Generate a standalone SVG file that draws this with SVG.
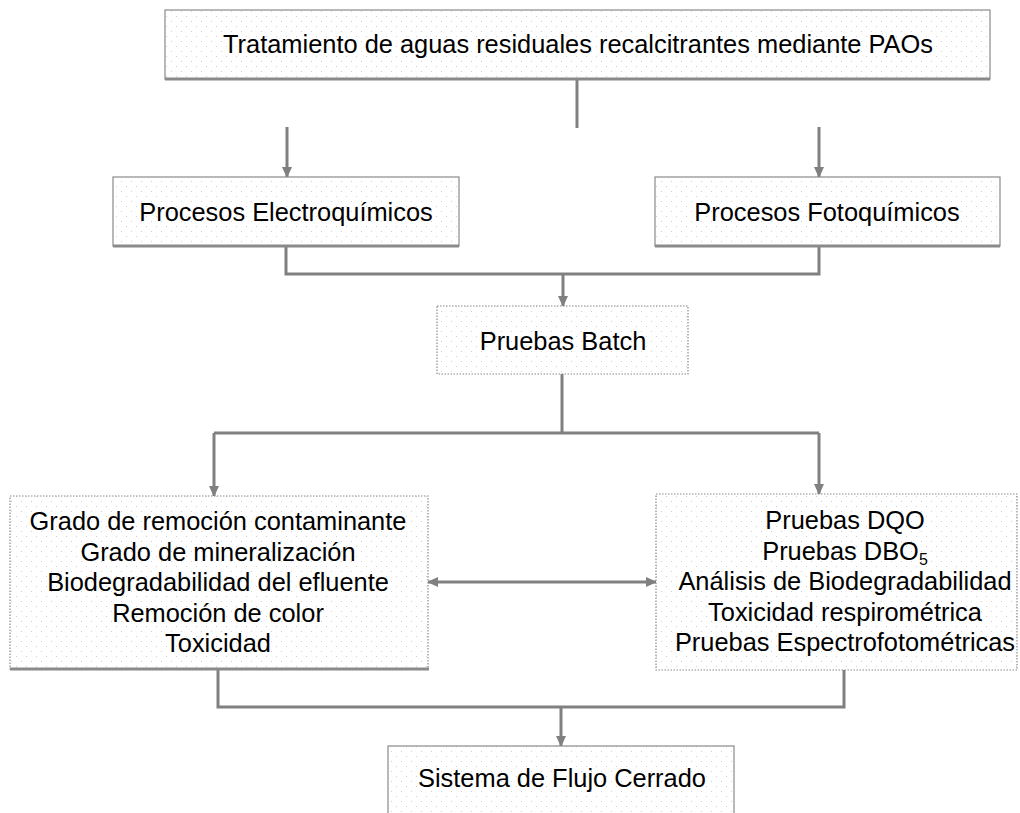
<svg xmlns="http://www.w3.org/2000/svg" width="1020" height="813" viewBox="0 0 1020 813">
<style>
.box{fill:url(#dots);stroke:#8a8a8a;stroke-width:1.2}
.dot{stroke-dasharray:1.5 1.5}
.shadow{stroke:#8a8a8a;stroke-width:3;fill:none}
.t{font-family:"Liberation Sans",Arial,sans-serif;font-size:25.4px;fill:#000;text-anchor:middle}
.c{stroke:#808080;stroke-width:3;fill:none}
.a{marker-end:url(#ah)}
</style>
<defs>
<pattern id="dots" width="10" height="10" patternUnits="userSpaceOnUse">
<rect width="10" height="10" fill="#fff"/>
<rect x="1" y="1" width="1" height="1" fill="#d0d0d0"/>
<rect x="6" y="6" width="1" height="1" fill="#d0d0d0"/>
</pattern>
<marker id="ah" markerWidth="12" markerHeight="12" refX="10" refY="6" orient="auto" markerUnits="userSpaceOnUse">
<path d="M0,1 L11,6 L0,11 Z" fill="#808080"/>
</marker>
<marker id="as" markerWidth="12" markerHeight="12" refX="1" refY="6" orient="auto" markerUnits="userSpaceOnUse">
<path d="M11,1 L0,6 L11,11 Z" fill="#808080"/>
</marker>
</defs>
<rect width="1020" height="813" fill="#fff"/>
<g id="connectors">
<line class="c" x1="577" y1="79" x2="577" y2="128"/>
<line class="c a" x1="287" y1="127" x2="287" y2="177"/>
<line class="c a" x1="819" y1="127" x2="819" y2="177"/>
<polyline class="c" points="286,246 286,274 819,274 819,246"/>
<line class="c a" x1="563" y1="274" x2="563" y2="306"/>
<line class="c" x1="562" y1="374" x2="562" y2="433"/>
<line class="c" x1="214" y1="433" x2="819" y2="433"/>
<line class="c a" x1="214" y1="433" x2="214" y2="496"/>
<line class="c a" x1="819" y1="433" x2="819" y2="494"/>
<line class="c" x1="428" y1="582" x2="656" y2="582" marker-start="url(#as)" marker-end="url(#ah)"/>
<polyline class="c" points="218,670 218,707 844,707 844,670"/>
<line class="c a" x1="561" y1="707" x2="561" y2="746"/>
</g>
<g id="n1">
<rect class="box" x="165" y="10" width="825" height="69"/>
<line class="shadow" x1="165" y1="79" x2="990" y2="79"/>
<text class="t" x="578" y="53" font-size="26.5">Tratamiento de aguas residuales recalcitrantes mediante PAOs</text>
</g>
<g id="n2">
<rect class="box" x="113" y="177" width="346" height="69"/>
<line class="shadow" x1="113" y1="246" x2="459" y2="246"/>
<text class="t" x="286" y="221">Procesos Electroquímicos</text>
</g>
<g id="n3">
<rect class="box" x="655" y="177" width="345" height="69"/>
<line class="shadow" x1="655" y1="246" x2="1000" y2="246"/>
<text class="t" x="827" y="221">Procesos Fotoquímicos</text>
</g>
<g id="n4">
<rect class="box dot" x="437" y="306" width="251" height="68"/>
<text class="t" x="563" y="350">Pruebas Batch</text>
</g>
<g id="n5">
<rect class="box dot" x="10" y="496" width="418" height="173"/>
<line class="shadow" x1="10" y1="669" x2="429" y2="669"/>
<text class="t" x="218" y="530">Grado de remoción contaminante</text>
<text class="t" x="218" y="560.5">Grado de mineralización</text>
<text class="t" x="218" y="591">Biodegradabilidad del efluente</text>
<text class="t" x="218" y="621.5">Remoción de color</text>
<text class="t" x="218" y="652">Toxicidad</text>
</g>
<g id="n6">
<rect class="box dot" x="656" y="494" width="361" height="176"/>
<text class="t" x="845" y="529">Pruebas DQO</text>
<text class="t" x="845" y="559.5">Pruebas DBO<tspan font-size="16" dy="5">5</tspan></text>
<text class="t" x="845" y="590">Análisis de Biodegradabilidad</text>
<text class="t" x="845" y="620.5">Toxicidad respirométrica</text>
<text class="t" x="845" y="651">Pruebas Espectrofotométricas</text>
</g>
<g id="n7">
<rect class="box" x="388" y="746" width="346" height="80"/>
<text class="t" x="562" y="787">Sistema de Flujo Cerrado</text>
</g>
</svg>
